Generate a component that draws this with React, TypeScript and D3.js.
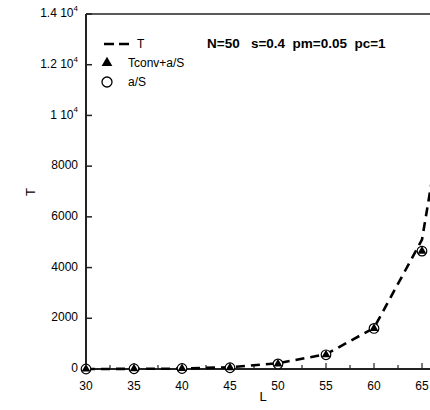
import React from "react";
import * as d3 from "d3";

const lValues = [30, 35, 40, 45, 50, 55, 60, 65];
const tLineL = [30, 35, 40, 45, 50, 55, 60, 65, 70];
const tLine = [0, 5, 15, 70, 230, 580, 1620, 5100, 16400];
const tconv = [0, 10, 20, 50, 200, 560, 1600, 4650];
const aS = [0, 10, 20, 50, 200, 560, 1600, 4650];
const yTicks = [0, 2000, 4000, 6000, 8000, 10000, 12000, 14000];
const xTicks = [30, 35, 40, 45, 50, 55, 60, 65];
const xMinor = [32.5, 37.5, 42.5, 47.5, 52.5, 57.5, 62.5, 67.5];
const title = "N=50   s=0.4  pm=0.05  pc=1";

const FONT = "'Liberation Sans', Arial, sans-serif";

function YLabel({ v, x, y }: { v: number; x: number; y: number }) {
  if (v >= 10000) {
    const m = v / 10000;
    const s = m === 1 ? "1" : m.toFixed(1);
    return (
      <text x={x} y={y} textAnchor="end" fontSize={12} fontFamily={FONT} dominantBaseline="middle">
        {s} 10<tspan fontSize={8} dy={-5}>4</tspan>
      </text>
    );
  }
  return (
    <text x={x} y={y} textAnchor="end" fontSize={12} fontFamily={FONT} dominantBaseline="middle">
      {v}
    </text>
  );
}

export default function App() {
  const W = 430, H = 410;
  const x = d3.scaleLinear().domain([30, 70]).range([86, 470]);
  const y = d3.scaleLinear().domain([0, 14000]).range([369, 14]);
  const line = d3.line<number>().x((_, i) => x(tLineL[i])).y((d) => y(d));
  const tri = d3.symbol().type(d3.symbolTriangle).size(34)();
  const triLeg = d3.symbol().type(d3.symbolTriangle).size(50)();

  return (
    <svg width={W} height={H} style={{ position: "absolute", left: 0, top: 0, background: "#fff" }}>
      <defs>
        <clipPath id="plotclip">
          <rect x={86} y={14} width={400} height={360} />
        </clipPath>
      </defs>
      <rect width={W} height={H} fill="#fff" />
      <line x1={86} y1={14} x2={W + 10} y2={14} stroke="#222" strokeWidth={1.5} />
      <line x1={86} y1={14} x2={86} y2={370} stroke="#222" strokeWidth={2} />
      <line x1={85} y1={369} x2={W + 10} y2={369} stroke="#222" strokeWidth={2} />
      {yTicks.map((v) => (
        <g key={"y" + v}>
          <line x1={86} x2={92} y1={y(v)} y2={y(v)} stroke="#222" strokeWidth={1.5} />
          <YLabel v={v} x={78} y={y(v)} />
        </g>
      ))}
      {xTicks.map((v) => (
        <g key={"x" + v}>
          <line x1={x(v)} x2={x(v)} y1={369} y2={363} stroke="#222" strokeWidth={1.2} />
          <text x={x(v)} y={390} textAnchor="middle" fontSize={12} fontFamily={FONT}>{v}</text>
        </g>
      ))}
      {xMinor.map((v) => (
        <line key={"m" + v} x1={x(v)} x2={x(v)} y1={369} y2={365} stroke="#222" strokeWidth={1.2} />
      ))}
      <text x={263} y={401} textAnchor="middle" fontSize={13} fontFamily={FONT}>L</text>
      <text x={0} y={0} transform="translate(35,192) rotate(-90)" textAnchor="middle" fontSize={13} fontFamily={FONT}>T</text>

      <g clipPath="url(#plotclip)">
        <path d={line(tLine) || ""} fill="none" stroke="#000" strokeWidth={2.6} strokeDasharray="9,6" />
      </g>
      {aS.map((v, i) => (
        <circle key={"c" + i} cx={x(lValues[i])} cy={y(v)} r={4.8} fill="#fff" stroke="#000" strokeWidth={1.2} />
      ))}
      {tconv.map((v, i) => (
        <path key={"t" + i} d={tri || ""} transform={`translate(${x(lValues[i])},${y(v)})`} fill="#000" />
      ))}

      <line x1={104} x2={134} y1={44} y2={44} stroke="#000" strokeWidth={2.4} strokeDasharray="10,5" />
      <text x={137} y={48} fontSize={12} fontFamily={FONT}>T</text>
      <path d={triLeg || ""} transform="translate(107,63)" fill="#000" />
      <text x={128} y={67} fontSize={12} fontFamily={FONT}>Tconv+a/S</text>
      <circle cx={107} cy={82} r={5} fill="#fff" stroke="#000" strokeWidth={1.3} />
      <text x={128} y={86} fontSize={12} fontFamily={FONT}>a/S</text>

      <text x={207} y={48} fontSize={13.5} fontWeight="bold" fontFamily={FONT}>{title.replace(/ /g, "\u00A0")}</text>
    </svg>
  );
}
